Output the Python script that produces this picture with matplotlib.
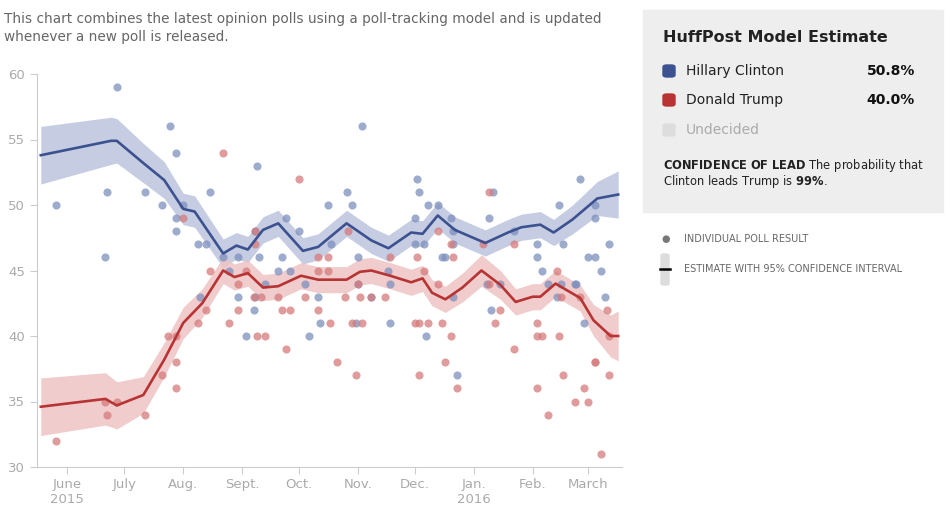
import matplotlib
matplotlib.use("Agg")
import matplotlib.pyplot as plt
from matplotlib.patches import FancyBboxPatch, Rectangle
import numpy as np
import datetime as dt

def D(s):
    return dt.datetime.strptime(s, "%Y-%m-%d")

# Clinton estimate
clinton_dates = ["2015-05-18","2015-06-24","2015-06-27","2015-07-11","2015-07-22","2015-08-01","2015-08-07",
                 "2015-08-22","2015-08-29","2015-09-04","2015-09-12","2015-09-20","2015-10-03","2015-10-11",
                 "2015-10-26","2015-11-08","2015-11-17","2015-11-29","2015-12-05","2015-12-13","2015-12-22",
                 "2016-01-07","2016-01-19","2016-01-26","2016-02-05","2016-02-12","2016-02-22","2016-03-06","2016-03-17"]
clinton_est = [53.8,54.9,54.9,53.2,51.9,49.7,49.5,46.3,46.9,46.6,48.1,48.6,46.5,46.8,
               48.6,47.3,46.7,47.9,47.8,49.2,48.1,47.1,47.9,48.3,48.5,47.9,48.9,50.5,50.8]
clinton_err = [2.2,1.8,1.7,1.5,1.4,1.2,1.2,1.1,1.0,1.0,1.0,1.0,1.0,1.0,
               1.0,1.0,1.0,1.0,1.0,1.0,1.0,1.0,1.0,1.0,1.0,1.0,1.1,1.3,1.8]

trump_dates = ["2015-05-18","2015-06-21","2015-06-27","2015-07-11","2015-07-22","2015-08-01","2015-08-11",
               "2015-08-22","2015-08-28","2015-09-04","2015-09-12","2015-09-20","2015-10-02","2015-10-11",
               "2015-10-26","2015-11-02","2015-11-08","2015-11-18","2015-11-29","2015-12-05","2015-12-10",
               "2015-12-17","2015-12-26","2016-01-05","2016-01-15","2016-01-23","2016-02-01","2016-02-05",
               "2016-02-13","2016-02-26","2016-03-04","2016-03-13","2016-03-17"]
trump_est = [34.6,35.2,34.7,35.5,38.2,41.0,42.5,45.0,44.5,44.8,43.7,43.8,44.6,44.3,
             44.3,44.9,45.0,44.6,44.1,44.4,43.3,42.8,43.7,45.0,43.9,42.6,43.0,43.0,
             44.0,42.9,41.2,40.0,40.0]
trump_err = [2.2,2.0,1.8,1.4,1.3,1.2,1.1,1.0,1.0,1.0,1.0,1.0,1.0,1.0,
             1.0,1.0,1.0,1.0,1.0,1.0,1.0,1.0,1.1,1.2,1.1,1.0,1.0,1.0,
             1.0,1.0,1.2,1.6,1.9]

clinton_poll_dates = ["2015-05-26","2015-06-21","2015-06-22","2015-06-27","2015-07-12","2015-07-21","2015-07-25",
    "2015-07-28","2015-07-28","2015-07-28","2015-08-01","2015-08-09","2015-08-13","2015-08-15","2015-08-10",
    "2015-08-22","2015-08-25","2015-08-30","2015-08-30","2015-09-03","2015-09-07","2015-09-08","2015-09-08",
    "2015-09-09","2015-09-10","2015-09-13","2015-09-20","2015-09-22","2015-09-24","2015-09-26","2015-10-01",
    "2015-10-04","2015-10-06","2015-10-11","2015-10-12","2015-10-16","2015-10-18","2015-10-26","2015-10-29",
    "2015-11-01","2015-11-01","2015-10-31","2015-11-03","2015-11-08","2015-11-17","2015-11-18","2015-11-18",
    "2015-12-01","2015-12-02","2015-12-03","2015-12-01","2015-12-06","2015-12-07","2015-12-08","2015-12-13",
    "2015-12-15","2015-12-17","2015-12-20","2015-12-21","2015-12-21","2015-12-23","2015-12-21","2016-01-09",
    "2016-01-11","2016-01-08","2016-01-10","2016-01-15","2016-01-22","2016-02-03","2016-02-03","2016-02-06",
    "2016-02-09","2016-02-15","2016-02-14","2016-02-17","2016-02-16","2016-02-23","2016-02-24","2016-02-26",
    "2016-02-28","2016-03-01","2016-03-05","2016-03-05","2016-03-05","2016-03-08","2016-03-10","2016-03-12"]
clinton_polls = [50,46,51,59,51,50,56,54,49,48,50,47,47,51,43,
    46,45,46,43,40,42,43,48,53,46,44,45,46,49,45,48,
    44,40,43,41,50,47,51,50,46,44,41,56,43,45,44,41,
    49,52,51,47,47,40,50,50,46,46,49,48,47,37,43,49,
    51,44,42,44,48,47,46,45,44,50,43,47,44,44,44,52,
    41,46,50,49,46,45,43,47]

trump_poll_dates = ["2015-05-26","2015-06-21","2015-06-22","2015-06-27","2015-07-12","2015-07-21","2015-07-24",
    "2015-07-28","2015-07-28","2015-07-28","2015-08-01","2015-08-09","2015-08-13","2015-08-15","2015-08-22",
    "2015-08-25","2015-08-30","2015-08-30","2015-09-03","2015-09-07","2015-09-08","2015-09-08","2015-09-09",
    "2015-09-13","2015-09-11","2015-09-20","2015-09-22","2015-09-24","2015-09-26","2015-10-01","2015-10-04",
    "2015-10-11","2015-10-11","2015-10-11","2015-10-16","2015-10-16","2015-10-17","2015-10-21","2015-10-25",
    "2015-10-27","2015-10-29","2015-10-31","2015-11-01","2015-11-02","2015-11-03","2015-11-08","2015-11-15",
    "2015-11-18","2015-12-01","2015-12-02","2015-12-03","2015-12-03","2015-12-06","2015-12-08","2015-12-13",
    "2015-12-13","2015-12-17","2015-12-15","2015-12-20","2015-12-21","2015-12-20","2015-12-23","2016-01-06",
    "2016-01-09","2016-01-09","2016-01-12","2016-01-15","2016-01-22","2016-01-22","2016-02-03","2016-02-03",
    "2016-02-03","2016-02-06","2016-02-09","2016-02-14","2016-02-15","2016-02-16","2016-02-17","2016-02-23",
    "2016-02-26","2016-02-28","2016-03-01","2016-03-05","2016-03-05","2016-03-08","2016-03-12","2016-03-12",
    "2016-03-11"]
trump_polls = [32,35,34,35,34,37,40,40,38,36,49,41,42,45,54,
    41,44,42,45,43,47,48,40,40,43,43,42,39,42,52,43,
    46,45,42,45,46,41,38,43,48,41,37,44,43,41,43,43,
    46,41,46,41,37,45,41,48,44,38,41,40,46,47,36,47,
    51,44,41,42,47,39,36,41,40,40,34,45,40,43,37,35,
    43,36,35,38,38,31,40,37,42]

BLUE = "#3c5190"; BLUE_PT = "#7d8fbd"; BLUE_BAND = "#c6cde2"
RED = "#b83434"; RED_PT = "#d67b7b"; RED_BAND = "#eec3c3"

fig = plt.figure(figsize=(9.51, 5.19), dpi=100)
W, H = 951, 519
ax = fig.add_axes([37/W, 1-467/H, (622-37)/W, (467-74)/H])

cd = [D(s) for s in clinton_dates]; td = [D(s) for s in trump_dates]
ce = np.array(clinton_est); cerr = np.array(clinton_err)
te = np.array(trump_est); terr = np.array(trump_err)
ax.fill_between(cd, ce-cerr, ce+cerr, color=BLUE_BAND, lw=0, zorder=1)
ax.fill_between(td, te-terr, te+terr, color=RED_BAND, lw=0, alpha=0.85, zorder=1)
ax.scatter([D(s) for s in clinton_poll_dates], clinton_polls, s=34, color=BLUE_PT, alpha=0.75, lw=0, zorder=2)
ax.scatter([D(s) for s in trump_poll_dates], trump_polls, s=34, color=RED_PT, alpha=0.75, lw=0, zorder=2)
ax.plot(cd, ce, color=BLUE, lw=1.9, zorder=3)
ax.plot(td, te, color=RED, lw=1.9, zorder=3)

ax.set_ylim(30, 60)
ax.set_xlim(D("2015-05-16"), D("2016-03-19"))
ax.set_yticks([30, 35, 40, 45, 50, 55, 60])
month_ticks = ["2015-06-01","2015-07-01","2015-08-01","2015-09-01","2015-10-01","2015-11-01",
               "2015-12-01","2016-01-01","2016-02-01","2016-03-01"]
month_labels = ["June\n2015","July","Aug.","Sept.","Oct.","Nov.","Dec.","Jan.\n2016","Feb.","March"]
ax.set_xticks([D(s) for s in month_ticks])
ax.set_xticklabels(month_labels)
for s in ["top", "right"]:
    ax.spines[s].set_visible(False)
for s in ["left", "bottom"]:
    ax.spines[s].set_color("#cccccc")
ax.tick_params(axis="both", colors="#cccccc", labelcolor="#aaaaaa", labelsize=9.5, length=5)
ax.tick_params(axis="x", pad=3)

fig.text(4/W, 1-28/H, "This chart combines the latest opinion polls using a poll-tracking model and is updated\nwhenever a new poll is released.",
         fontsize=9.8, color="#666666", va="center", linespacing=1.3)

# Right panel
fig.patches.append(Rectangle((643/W, 1-212/H), 300/W, 202/H, transform=fig.transFigure,
                             color="#eeeeee", zorder=0))
fig.text(663/W, 1-38/H, "HuffPost Model Estimate", fontsize=11.5, weight="bold", color="#222222", va="center")
rows = [("Hillary Clinton", "50.8%", BLUE, "#222222", 71),
        ("Donald Trump", "40.0%", RED, "#222222", 100),
        ("Undecided", "", "#dddddd", "#aaaaaa", 130)]
for name, val, col, tcol, y in rows:
    fig.patches.append(FancyBboxPatch((663/W, 1-(y+6)/H), 12/W, 12/H,
                       boxstyle="round,pad=0,rounding_size=0.004", transform=fig.transFigure,
                       color=col, zorder=2))
    fig.text(686/W, 1-y/H, name, fontsize=10, color=tcol, va="center")
    if val:
        fig.text(915/W, 1-y/H, val, fontsize=10, weight="bold", color="#111111", va="center", ha="right")
fig.text(663/W, 1-165/H, r"$\bf{CONFIDENCE\ OF\ LEAD}$ The probability that", fontsize=8.3, color="#222222", va="center")
fig.text(663/W, 1-182/H, "Clinton leads Trump is $\\bf{99\\%}$.", fontsize=8.3, color="#222222", va="center")

fig.text(666/W, 1-239/H, "●", fontsize=7, color="#777777", va="center", ha="center")
fig.text(684/W, 1-239/H, "INDIVIDUAL POLL RESULT", fontsize=7, color="#666666", va="center")
fig.patches.append(FancyBboxPatch((661/W, 1-285/H), 8/W, 31/H, boxstyle="round,pad=0,rounding_size=0.003",
                                  transform=fig.transFigure, color="#dddddd", zorder=1))
fig.lines.append(plt.Line2D([660/W, 670/W], [1-269/H, 1-269/H], transform=fig.transFigure, color="black", lw=1.8))
fig.text(684/W, 1-269/H, "ESTIMATE WITH 95% CONFIDENCE INTERVAL", fontsize=7, color="#666666", va="center")

fig.savefig("out.png", dpi=100)
